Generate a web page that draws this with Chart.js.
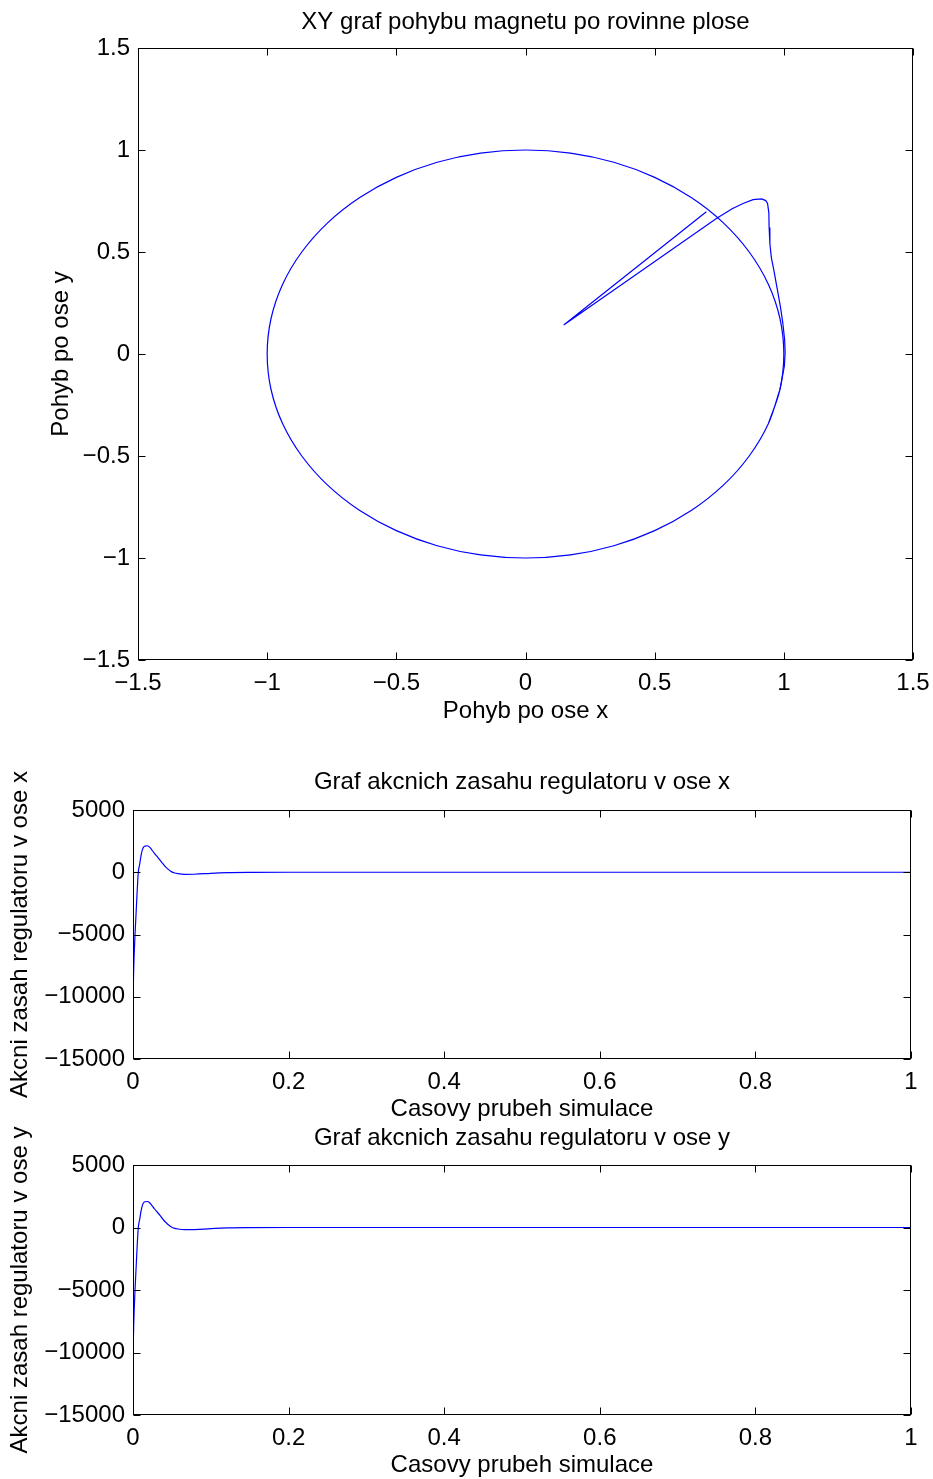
<!DOCTYPE html>
<html>
<head>
<meta charset="utf-8">
<script src="https://cdn.jsdelivr.net/npm/chart.js"></script>
<style>
  body { margin: 0; background: #fff; width: 933px; height: 1479px; position: relative; }
  canvas { position: absolute; left: 0; }
</style>
</head>
<body>
<canvas id="xy" width="933" height="735" style="top:0px"></canvas>
<canvas id="ux" width="933" height="385" style="top:740px"></canvas>
<canvas id="uy" width="933" height="354" style="top:1125px"></canvas>
<script>
// XY trajektorie magnetu - najezd na kruznici
const pathX = [0.700, 0.148, 0.739, 0.800, 0.842, 0.881, 0.914, 0.930, 0.937, 0.942, 0.943, 0.946, 0.952, 0.960, 0.975, 0.987, 0.996, 1.003, 1.005, 1.002, 0.985];
const pathY = [0.697, 0.142, 0.664, 0.712, 0.738, 0.757, 0.760, 0.752, 0.738, 0.692, 0.620, 0.540, 0.470, 0.420, 0.316, 0.230, 0.153, 0.070, 0.007, -0.060, -0.174];
// pohyb po kruznici
const circleX = [0.985, 0.940, 0.866, 0.766, 0.643, 0.500, 0.342, 0.174, 0.000,
  -0.174, -0.342, -0.500, -0.643, -0.766, -0.866, -0.940, -0.985, -1.000,
  -0.985, -0.940, -0.866, -0.766, -0.643, -0.500, -0.342, -0.174, 0.000,
  0.174, 0.342, 0.500, 0.643, 0.766, 0.866, 0.940, 0.985, 1.000, 0.985, 0.940];
const circleY = [-0.174, -0.342, -0.500, -0.643, -0.766, -0.866, -0.940, -0.985, -1.000,
  -0.985, -0.940, -0.866, -0.766, -0.643, -0.500, -0.342, -0.174, 0.000,
  0.174, 0.342, 0.500, 0.643, 0.766, 0.866, 0.940, 0.985, 1.000,
  0.985, 0.940, 0.866, 0.766, 0.643, 0.500, 0.342, 0.174, 0.000, -0.174, -0.342];

// akcni zasahy regulatoru
const time = [0, 0.0009, 0.0026, 0.0047, 0.0068, 0.0086, 0.0107, 0.0129, 0.0155, 0.0184, 0.0210, 0.0235, 0.0275, 0.0321, 0.0365, 0.0407, 0.045, 0.0493, 0.0535, 0.0578, 0.0664, 0.079, 0.1, 0.122, 0.15, 0.2, 0.3, 0.5, 1.0];
const ux = [-10300, -7750, -5000, -2350, 0, 650, 1460, 1950, 2100, 2130, 2040, 1860, 1520, 1180, 830, 510, 250, 50, -60, -115, -165, -160, -85, -35, -12, 0, 0, 0, 0];
const uy = [-10400, -7800, -5000, -2300, 0, 640, 1430, 1910, 2060, 2080, 2000, 1830, 1500, 1160, 820, 500, 245, 45, -65, -120, -170, -165, -90, -35, -12, 0, 0, 0, 0];

const xyTicks = [-1.5, -1, -0.5, 0, 0.5, 1, 1.5];
const timeTicks = [0, 0.2, 0.4, 0.6, 0.8, 1];
const uTicks = [-15000, -10000, -5000, 0, 5000];

Chart.defaults.font.family = '"Liberation Sans", Arial, Helvetica, sans-serif';
Chart.defaults.font.size = 24;
Chart.defaults.color = '#000';

const fmt = v => String(v).replace('-', '\u2212');

// ramecek, tiky dovnitr a popisky ve stylu MATLABu
const matlabBox = {
  id: 'matlabBox',
  afterDraw(chart, args, o) {
    const { ctx, chartArea: a, scales } = chart;
    ctx.save();
    ctx.strokeStyle = '#000';
    ctx.lineWidth = 1;
    const L = Math.round(a.left) + 0.5, R = Math.round(a.right) - 0.5;
    const T = Math.round(a.top) + 0.5, B = Math.round(a.bottom) - 0.5;
    ctx.strokeRect(L, T, R - L, B - T);
    ctx.beginPath();
    scales.x.ticks.forEach(t => {
      const p = Math.round(scales.x.getPixelForValue(t.value)) + 0.5;
      ctx.moveTo(p, B); ctx.lineTo(p, B - 7);
      ctx.moveTo(p, T); ctx.lineTo(p, T + 7);
    });
    scales.y.ticks.forEach(t => {
      const p = Math.round(scales.y.getPixelForValue(t.value)) + 0.5;
      ctx.moveTo(L, p); ctx.lineTo(L + 7, p);
      ctx.moveTo(R, p); ctx.lineTo(R - 7, p);
    });
    ctx.stroke();

    ctx.fillStyle = '#000';
    ctx.font = '24px "Liberation Sans", Arial, sans-serif';
    ctx.textAlign = 'center';
    ctx.textBaseline = 'middle';
    const cx = (a.left + a.right) / 2, cy = (a.top + a.bottom) / 2;
    ctx.fillText(o.title, cx, a.top - o.titleGap);
    ctx.fillText(o.xTitle, cx, a.bottom + o.xGap);
    ctx.translate(a.left - o.yGap, cy);
    ctx.rotate(-Math.PI / 2);
    ctx.fillText(o.yTitle, 0, 0);
    ctx.restore();
  }
};

function makeChart(id, series, cfg) {
  const datasets = series.map(s => ({
    data: s.xs.map((x, i) => ({ x: x, y: s.ys[i] })),
    borderColor: '#0000ff',
    borderWidth: 1.2,
    pointRadius: 0,
    fill: false,
    tension: s.tension || 0,
    cubicInterpolationMode: s.monotone ? 'monotone' : 'default'
  }));
  return new Chart(document.getElementById(id), {
    type: 'line',
    data: { datasets: datasets },
    options: {
      responsive: false,
      animation: false,
      layout: { padding: { top: cfg.top, right: cfg.right, left: 0, bottom: 0 } },
      plugins: {
        legend: { display: false },
        tooltip: { enabled: false },
        matlabBox: cfg.labels
      },
      scales: {
        x: {
          type: 'linear',
          min: cfg.xTicks[0], max: cfg.xTicks[cfg.xTicks.length - 1],
          grid: { display: false, drawTicks: false },
          border: { display: false },
          afterBuildTicks: s => { s.ticks = cfg.xTicks.map(v => ({ value: v })); },
          afterFit: s => { s.height = cfg.xh; s.paddingLeft = 0; s.paddingRight = 0; },
          ticks: { padding: 9, maxRotation: 0, autoSkip: false, callback: fmt }
        },
        y: {
          type: 'linear',
          min: cfg.yTicks[0], max: cfg.yTicks[cfg.yTicks.length - 1],
          grid: { display: false, drawTicks: false },
          border: { display: false },
          afterBuildTicks: s => { s.ticks = cfg.yTicks.map(v => ({ value: v })); },
          afterFit: s => { s.width = cfg.yw; s.paddingTop = 0; s.paddingBottom = 0; },
          ticks: { padding: 8, autoSkip: false, callback: fmt }
        }
      }
    },
    plugins: [matlabBox]
  });
}

makeChart('xy', [
  { xs: pathX, ys: pathY, tension: 0 },
  { xs: circleX, ys: circleY, tension: 0.33 }
], {
  top: 48, right: 20, xh: 75, yw: 138, xTicks: xyTicks, yTicks: xyTicks,
  labels: { title: 'XY graf pohybu magnetu po rovinne plose', xTitle: 'Pohyb po ose x', yTitle: 'Pohyb po ose y', titleGap: 26, xGap: 51, yGap: 77 }
});
makeChart('ux', [{ xs: time, ys: ux, monotone: true, tension: 0.4 }], {
  top: 70, right: 22, xh: 66, yw: 133, xTicks: timeTicks, yTicks: uTicks,
  labels: { title: 'Graf akcnich zasahu regulatoru v ose x', xTitle: 'Casovy prubeh simulace', yTitle: 'Akcni zasah regulatoru v ose x', titleGap: 28, xGap: 50, yGap: 113 }
});
makeChart('uy', [{ xs: time, ys: uy, monotone: true, tension: 0.4 }], {
  top: 40, right: 22, xh: 64, yw: 133, xTicks: timeTicks, yTicks: uTicks,
  labels: { title: 'Graf akcnich zasahu regulatoru v ose y', xTitle: 'Casovy prubeh simulace', yTitle: 'Akcni zasah regulatoru v ose y', titleGap: 27, xGap: 50, yGap: 113 }
});
</script>
</body>
</html>
